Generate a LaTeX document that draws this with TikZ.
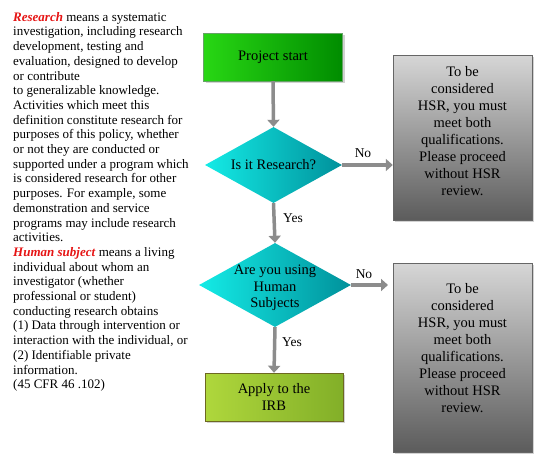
\documentclass[tikz,border=0pt]{standalone}
\usepackage{fontspec}
\setmainfont{Liberation Serif}
\usetikzlibrary{shapes.geometric,shadows,arrows.meta}
\definecolor{defred}{RGB}{230,20,20}
\begin{document}
\begin{tikzpicture}[x=1pt,y=1pt,
  boxshadow/.style={drop shadow={opacity=0.35,shadow xshift=2pt,shadow yshift=-2pt}},
  mainfont/.style={font=\fontsize{14.5}{16.6}\selectfont},
  startbox/.style={rectangle,draw=green!40!black!60,left color={rgb,255:red,40;green,215;blue,20},right color={rgb,255:red,0;green,140;blue,0},minimum width=139pt,minimum height=48pt,mainfont,boxshadow},
  decision/.style={diamond,draw=none,left color={rgb,255:red,20;green,235;blue,230},right color={rgb,255:red,0;green,145;blue,155},inner sep=0pt},
  dectext/.style={align=center,inner sep=0pt,mainfont},
  applybox/.style={rectangle,draw=olive!70!black,left color={rgb,255:red,175;green,215;blue,60},right color={rgb,255:red,130;green,175;blue,40},minimum width=138pt,minimum height=48pt,align=center,mainfont,boxshadow},
  hsrbox/.style={rectangle,draw=black!60,shading=axis,shading angle=135,top color=black!16,bottom color=black!64,minimum width=139pt,boxshadow},
  hsrtext/.style={align=center,inner sep=0pt,font=\fontsize{14.5}{17}\selectfont},
  flow/.style={draw=black!45,line width=3.5pt,-{Triangle[length=7pt,width=12pt]}},
  lbl/.style={font=\fontsize{13.5}{16}\selectfont,inner sep=0pt}
]
\useasboundingbox (0,0) rectangle (550,-466);
\fill[white] (0,0) rectangle (550,-466);

\node[anchor=north west,inner sep=0pt,align=left,font=\fontsize{13}{14.7}\selectfont] (deftext) at (13,-12) {%
\textcolor{defred}{\textbf{\textit{Research}}} means a systematic\\
investigation, including research\\
development, testing and\\
evaluation, designed to develop\\
or contribute\\
to generalizable knowledge.\\
Activities which meet this\\
definition constitute research for\\
purposes of this policy, whether\\
or not they are conducted or\\
supported under a program which\\
is considered research for other\\
purposes. For example, some\\
demonstration and service\\
programs may include research\\
activities.\\
\textcolor{defred}{\textbf{\textit{Human subject}}} means a living\\
individual about whom an\\
investigator (whether\\
professional or student)\\
conducting research obtains\\
(1) Data through intervention or\\
interaction with the individual, or\\
(2) Identifiable private\\
information.\\
(45 CFR 46 .102)};

\node[startbox] (start) at (273,-57) {Project start};
\node[decision,minimum width=137pt,minimum height=76pt] (q1) at (273.5,-165) {};
\node[dectext] (q1t) at (q1.center) {Is it Research?};
\node[decision,minimum width=152pt,minimum height=84pt] (q2) at (275,-285) {};
\node[dectext] (q2t) at ([yshift=-3pt]q2.center) {Are you using\\Human\\Subjects};
\node[applybox] (apply) at (274,-397) {Apply to the\\IRB};
\node[hsrbox,minimum height=165pt] (hsr1) at (462.5,-137.5) {};
\node[hsrtext] (hsr1t) at ([yshift=6.5pt]hsr1.center) {To be\\considered\\HSR, you must\\meet both\\qualifications.\\Please proceed\\without HSR\\review.};
\node[hsrbox,minimum height=189pt] (hsr2) at (462.5,-357.5) {};
\node[hsrtext] (hsr2t) at ([yshift=9pt]hsr2.center) {To be\\considered\\HSR, you must\\meet both\\qualifications.\\Please proceed\\without HSR\\review.};

\draw[flow] (start.south) -- (q1.north);
\draw[flow] (q1.south) -- (q2.north);
\draw[flow] (q2.south) -- (apply.north);
\draw[flow] (q1.east) -- (q1.east -| hsr1.west);
\coordinate (q2out) at (388,-285);
\draw[flow] (q2.east) -- (q2out);

\node[lbl] (no1) at (363,-153) {No};
\node[lbl] (yes1) at (293,-218) {Yes};
\node[lbl] (no2) at (364,-274) {No};
\node[lbl] (yes2) at (292,-342) {Yes};
\end{tikzpicture}
\end{document}
